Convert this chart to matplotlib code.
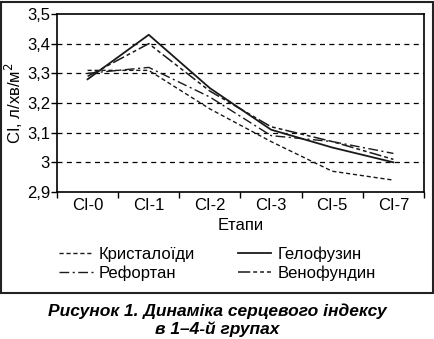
import matplotlib
matplotlib.use("Agg")
import matplotlib.pyplot as plt
from matplotlib.patches import Rectangle

plt.rcParams['font.family'] = ['Liberation Sans', 'DejaVu Sans']

categories = ["CI-0", "CI-1", "CI-2", "CI-3", "CI-5", "CI-7"]
kryst = [3.31, 3.31, 3.18, 3.07, 2.97, 2.94]
gelo = [3.28, 3.43, 3.25, 3.11, 3.05, 3.00]
refo = [3.30, 3.32, 3.22, 3.09, 3.07, 3.03]
veno = [3.29, 3.40, 3.24, 3.12, 3.07, 3.01]
series_names = ["Кристалоїди", "Гелофузин", "Рефортан", "Венофундин"]
yticks = [2.9, 3.0, 3.1, 3.2, 3.3, 3.4, 3.5]
ytick_labels = ["2,9", "3", "3,1", "3,2", "3,3", "3,4", "3,5"]

W, H = 435, 339
fig = plt.figure(figsize=(W / 100, H / 100), dpi=100)
ax = fig.add_axes([57 / W, 1 - 192 / H, 367 / W, 178 / H])

x = list(range(len(categories)))
col = '#1a1a1a'
styles = [
    dict(ls=(0, (3, 2)), lw=1.0),
    dict(ls='-', lw=1.3),
    dict(ls=(0, (7, 2.5, 1.5, 2.5)), lw=1.0),
    dict(ls=(0, (8, 2, 2.5, 2, 2.5, 2)), lw=1.1),
]
data = [kryst, gelo, refo, veno]
handles = []
for d, st, name in zip(data, styles, series_names):
    h, = ax.plot(x, d, color=col, linestyle=st['ls'], lw=st['lw'], label=name)
    handles.append(h)

fs = 12
ax.set_xlim(-0.5, len(categories) - 0.5)
ax.set_ylim(2.9, 3.5)
ax.set_yticks(yticks)
ax.set_yticklabels(ytick_labels, fontsize=fs)
ax.set_xticks(x)
ax.set_xticklabels(categories, fontsize=fs)
ax.tick_params(axis='x', length=0, pad=4)
ax.set_xticks([i - 0.5 for i in range(len(categories) + 1)], minor=True)
ax.tick_params(axis='x', which='minor', length=4, width=1, direction='out')
ax.tick_params(axis='y', length=4, width=1, direction='out', pad=1)
for yv in [3.0, 3.1, 3.2, 3.3, 3.4]:
    ax.axhline(yv, color='black', lw=0.9, ls=(0, (4, 3.5)), zorder=0)
for s in ax.spines.values():
    s.set_linewidth(1.2)
    s.set_color('black')
ax.set_xlabel("Етапи", fontsize=fs, labelpad=4)
ax.set_ylabel("CI, л/хв/м$^2$", fontsize=fs, labelpad=1)

order = [handles[0], handles[2], handles[1], handles[3]]
leg = fig.legend(order, [h.get_label() for h in order], ncol=2, loc='center',
                 bbox_to_anchor=(0.5, 1 - 264 / H), frameon=False, fontsize=fs,
                 handlelength=2.0, handletextpad=0.35, columnspacing=2.6,
                 labelspacing=0.2)

fig.patches.append(Rectangle((1.5 / W, 1 - 293 / H), (432 / W), (291 / H),
                             transform=fig.transFigure, fill=False,
                             edgecolor='#222', lw=1.5))

fig.text(0.5, 1 - 311 / H, "Рисунок 1. Динаміка серцевого індексу",
         ha='center', va='center', fontsize=12.5, fontweight='bold', style='italic')
fig.text(0.5, 1 - 329 / H, "в 1–4-й групах",
         ha='center', va='center', fontsize=12.5, fontweight='bold', style='italic')

fig.savefig("out.png", dpi=100)
